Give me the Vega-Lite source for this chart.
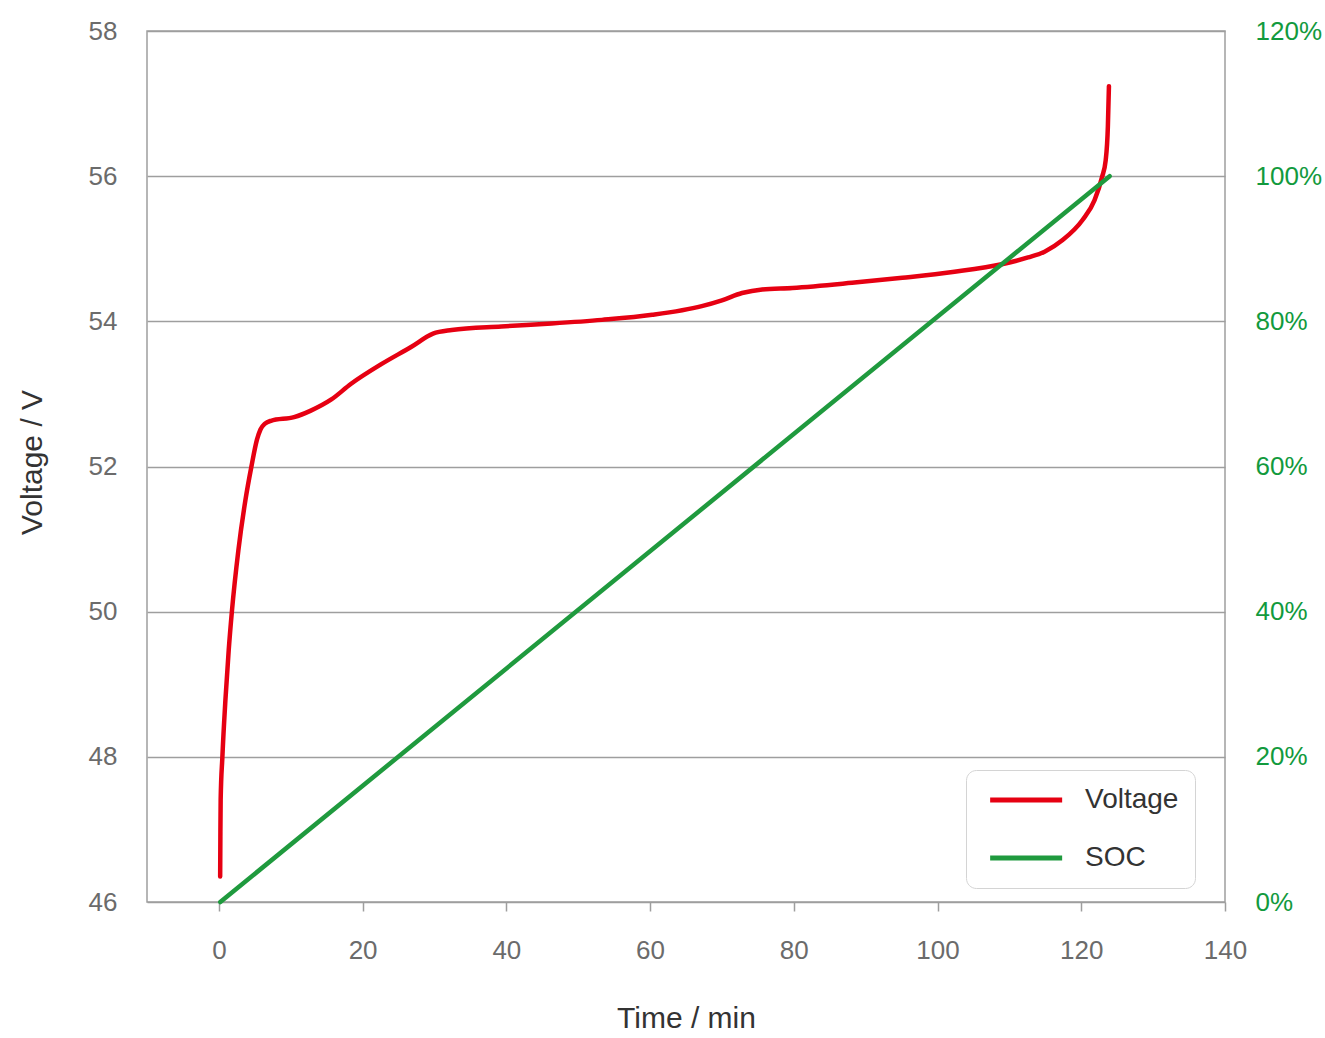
{
  "$schema": "https://vega.github.io/schema/vega-lite/v6.json",
  "autosize": "none",
  "width": 1078,
  "height": 871,
  "padding": {"left": 147, "top": 31, "right": 100, "bottom": 136},
  "background": "white",
  "config": {
    "font": "Liberation Sans",
    "view": {"stroke": "#9e9e9e", "strokeWidth": 1.5}
  },
  "datasets": {
    "voltage": [
      {"t": 0.18, "v": 46.35, "series": "Voltage"},
      {"t": 0.21, "v": 46.9, "series": "Voltage"},
      {"t": 0.25, "v": 47.41, "series": "Voltage"},
      {"t": 0.49, "v": 48.0, "series": "Voltage"},
      {"t": 0.91, "v": 48.78, "series": "Voltage"},
      {"t": 1.37, "v": 49.47, "series": "Voltage"},
      {"t": 1.81, "v": 50.0, "series": "Voltage"},
      {"t": 2.72, "v": 50.85, "series": "Voltage"},
      {"t": 3.7, "v": 51.54, "series": "Voltage"},
      {"t": 4.53, "v": 52.0, "series": "Voltage"},
      {"t": 5.3, "v": 52.37, "series": "Voltage"},
      {"t": 5.79, "v": 52.51, "series": "Voltage"},
      {"t": 6.42, "v": 52.59, "series": "Voltage"},
      {"t": 7.25, "v": 52.63, "series": "Voltage"},
      {"t": 10.46, "v": 52.68, "series": "Voltage"},
      {"t": 12.8, "v": 52.77, "series": "Voltage"},
      {"t": 15.6, "v": 52.92, "series": "Voltage"},
      {"t": 18.4, "v": 53.14, "series": "Voltage"},
      {"t": 22.6, "v": 53.41, "series": "Voltage"},
      {"t": 26.8, "v": 53.65, "series": "Voltage"},
      {"t": 29.8, "v": 53.83, "series": "Voltage"},
      {"t": 32.4, "v": 53.88, "series": "Voltage"},
      {"t": 39.3, "v": 53.93, "series": "Voltage"},
      {"t": 46.3, "v": 53.97, "series": "Voltage"},
      {"t": 53.3, "v": 54.02, "series": "Voltage"},
      {"t": 60.3, "v": 54.09, "series": "Voltage"},
      {"t": 67.2, "v": 54.21, "series": "Voltage"},
      {"t": 70.0, "v": 54.29, "series": "Voltage"},
      {"t": 72.8, "v": 54.39, "series": "Voltage"},
      {"t": 75.6, "v": 54.44, "series": "Voltage"},
      {"t": 79.8, "v": 54.46, "series": "Voltage"},
      {"t": 88.1, "v": 54.53, "series": "Voltage"},
      {"t": 95.1, "v": 54.6, "series": "Voltage"},
      {"t": 102.1, "v": 54.68, "series": "Voltage"},
      {"t": 109.1, "v": 54.79, "series": "Voltage"},
      {"t": 112.6, "v": 54.88, "series": "Voltage"},
      {"t": 114.9, "v": 54.96, "series": "Voltage"},
      {"t": 117.4, "v": 55.12, "series": "Voltage"},
      {"t": 120.2, "v": 55.4, "series": "Voltage"},
      {"t": 121.85, "v": 55.67, "series": "Voltage"},
      {"t": 122.9, "v": 55.99, "series": "Voltage"},
      {"t": 123.4, "v": 56.22, "series": "Voltage"},
      {"t": 123.7, "v": 56.68, "series": "Voltage"},
      {"t": 123.85, "v": 57.24, "series": "Voltage"}
    ],
    "soc": [
      {"t": 0.2, "soc": 0.0, "series": "SOC"},
      {"t": 123.95, "soc": 1.0, "series": "SOC"}
    ]
  },
  "encoding": {
    "x": {
      "field": "t",
      "type": "quantitative",
      "scale": {"domain": [-10, 140], "nice": false, "zero": false},
      "axis": {
        "title": "Time / min",
        "values": [0, 20, 40, 60, 80, 100, 120, 140],
        "grid": false,
        "domain": false,
        "ticks": true,
        "tickSize": 9,
        "tickColor": "#9e9e9e",
        "tickWidth": 1.5,
        "labelFlush": false,
        "labelOverlap": false,
        "labelFontSize": 26,
        "labelColor": "#6b6b6b",
        "labelPadding": 26,
        "titleFontSize": 30,
        "titleFontWeight": "normal",
        "titleColor": "#333333",
        "titleBaseline": "middle",
        "titleY": 116
      }
    },
    "color": {
      "field": "series",
      "type": "nominal",
      "scale": {"domain": ["Voltage", "SOC"], "range": ["#e60012", "#1f9a3e"]},
      "legend": {
        "title": null,
        "orient": "none",
        "legendX": 819,
        "legendY": 739,
        "symbolType": "M-0.65,0H7.35",
        "symbolSize": 324,
        "symbolStrokeWidth": 5,
        "symbolStrokeCap": "round",
        "labelFontSize": 28,
        "labelColor": "#333333",
        "labelOffset": 75,
        "rowPadding": 30,
        "padding": 16,
        "strokeColor": "#d4d4d4",
        "cornerRadius": 10,
        "fillColor": "white"
      }
    }
  },
  "layer": [
    {
      "data": {"name": "voltage"},
      "mark": {"type": "line", "strokeWidth": 4.5, "strokeCap": "round", "strokeJoin": "round", "interpolate": "monotone"},
      "encoding": {
        "y": {
          "field": "v",
          "type": "quantitative",
          "scale": {"domain": [46, 58], "nice": false, "zero": false},
          "axis": {
            "title": "Voltage / V",
            "orient": "left",
            "values": [46, 48, 50, 52, 54, 56, 58],
            "grid": true,
            "gridColor": "#9e9e9e",
            "gridWidth": 1.5,
            "domain": false,
            "ticks": false,
            "labelFontSize": 26,
            "labelColor": "#6b6b6b",
            "labelPadding": 30,
            "titleFontSize": 30,
            "titleFontWeight": "normal",
            "titleColor": "#333333",
            "titleAngle": -90,
            "titleBaseline": "middle",
            "titleAlign": "center",
            "titleX": -115,
            "titleY": 431
          }
        }
      }
    },
    {
      "data": {"name": "soc"},
      "mark": {"type": "line", "strokeWidth": 4.5, "strokeCap": "round"},
      "encoding": {
        "y": {
          "field": "soc",
          "type": "quantitative",
          "scale": {"domain": [0, 1.2], "nice": false},
          "axis": {
            "title": null,
            "orient": "right",
            "format": ".0%",
            "values": [0, 0.2, 0.4, 0.6, 0.8, 1.0, 1.2],
            "grid": false,
            "domain": false,
            "ticks": false,
            "labelFontSize": 26,
            "labelColor": "#129a3d",
            "labelPadding": 30
          }
        }
      }
    }
  ],
  "resolve": {"scale": {"y": "independent"}}
}
